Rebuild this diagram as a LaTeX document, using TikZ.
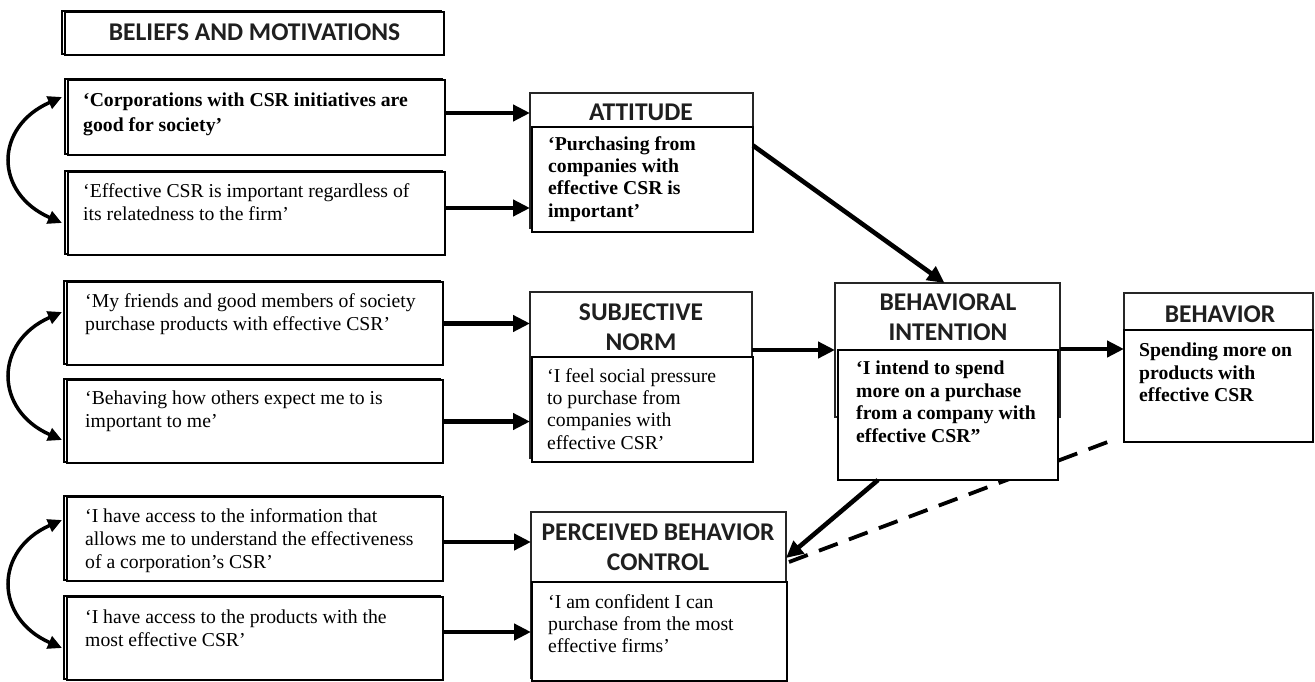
\documentclass[tikz,border=0pt]{standalone}
\usepackage{fontspec}
\setmainfont{Liberation Serif}
\newfontfamily\hdfont{Carlito}
\usetikzlibrary{arrows.meta,shadows}
\begin{document}
\begin{tikzpicture}[x=1pt,y=-1pt,
  lbox/.style={draw=black, line width=1.7pt, fill=white, inner sep=0pt, outer sep=0pt, anchor=north west,
     copy shadow={shadow xshift=-3pt, shadow yshift=1pt, draw=black, fill=white, line width=1.7pt}},
  hbox/.style={draw=black!85, line width=2.8pt, fill=white, inner sep=0pt, outer sep=0pt, anchor=north west},
  bbox/.style={draw=black, line width=1.4pt, fill=white, inner sep=0pt, outer sep=0pt, anchor=north west},
  txt/.style={font=\fontsize{19.7}{23}\selectfont, align=left, anchor=north west, inner sep=0pt},
  btxt/.style={font=\fontsize{19.7}{22.4}\selectfont\bfseries, align=left, anchor=north west, inner sep=0pt},
  rtxt/.style={font=\fontsize{19.7}{22.4}\selectfont, align=left, anchor=north west, inner sep=0pt},
  htxt/.style={font=\hdfont\bfseries\fontsize{25.5}{30}\selectfont, align=center, text=black!88, inner sep=0pt},
  arr/.style={line width=4.6pt, -{Triangle[length=17pt,width=16pt]}},
  carr/.style={line width=3.5pt, {Triangle[length=14pt,width=13pt]}-{Triangle[length=14pt,width=13pt]}},
]
\useasboundingbox (0,0) rectangle (1315,682);
\fill[white] (0,0) rectangle (1315,682);

% dashed connector (behind boxes)
\coordinate (dstart) at (789,562);
\coordinate (dend) at (1113,440);
\draw[line width=3.8pt, dash pattern=on 20pt off 12pt] (dstart) -- (dend);

% header
\node[lbox, minimum width=379pt, minimum height=43pt, line width=2.6pt] (BM) at (65,12) {};
\node[htxt] (BMt) at ([yshift=1pt]BM.center) {BELIEFS AND MOTIVATIONS};

% left boxes
\node[lbox, minimum width=377pt, minimum height=75pt] (L1) at (68,80) {};
\node[lbox, minimum width=377pt, minimum height=83pt] (L2) at (68,172) {};
\node[lbox, minimum width=376pt, minimum height=83pt] (L3) at (67,282) {};
\node[lbox, minimum width=376pt, minimum height=83pt] (L4) at (67,380) {};
\node[lbox, minimum width=376pt, minimum height=84pt] (L5) at (67,497) {};
\node[lbox, minimum width=376pt, minimum height=83pt] (L6) at (67,597) {};

\node[btxt, font=\fontsize{19.7}{25}\selectfont\bfseries] (L1t) at (83,93) {‘Corporations with CSR initiatives are\\good for society’};
\node[txt] (L2t) at (83,183) {‘Effective CSR is important regardless of\\its relatedness to the firm’};
\node[txt] (L3t) at (85,293) {‘My friends and good members of society\\purchase products with effective CSR’};
\node[txt] (L4t) at (85,391) {‘Behaving how others expect me to is\\important to me’};
\node[txt] (L5t) at (85,508) {‘I have access to the information that\\allows me to understand the effectiveness\\of a corporation’s CSR’};
\node[txt] (L6t) at (85,610) {‘I have access to the products with the\\most effective CSR’};

% ATTITUDE
\node[hbox, minimum width=223pt, minimum height=135pt] (ATTh) at (530,93) {};
\node[bbox, minimum width=221pt, minimum height=105pt] (ATTb) at (532,127) {};
\node[htxt] (ATTt) at (641,112) {ATTITUDE};
\node[btxt] (ATTx) at (548,136) {‘Purchasing from\\companies with\\effective CSR is\\important’};

% SUBJECTIVE NORM
\node[hbox, minimum width=222pt, minimum height=166pt] (SNh) at (530,292) {};
\node[bbox, minimum width=221pt, minimum height=105pt] (SNb) at (532,357) {};
\node[htxt] (SNt) at (641,327) {SUBJECTIVE\\NORM};
\node[rtxt] (SNx) at (547,368) {‘I feel social pressure\\to purchase from\\companies with\\effective CSR’};

% PERCEIVED BEHAVIOR CONTROL
\node[hbox, minimum width=255pt, minimum height=166pt] (PBCh) at (531,512) {};
\node[bbox, minimum width=255pt, minimum height=99pt] (PBCb) at (532,582) {};
\node[htxt] (PBCt) at (658,547) {PERCEIVED BEHAVIOR\\CONTROL};
\node[rtxt] (PBCx) at (548,594) {‘I am confident I can\\purchase from the most\\effective firms’};

% BEHAVIORAL INTENTION
\node[hbox, minimum width=225pt, minimum height=134pt] (BIh) at (835,283) {};
\node[bbox, minimum width=220pt, minimum height=130pt] (BIb) at (838,350) {};
\node[htxt] (BIt) at (948,317) {BEHAVIORAL\\INTENTION};
\node[btxt] (BIx) at (856,361) {‘I intend to spend\\more on a purchase\\from a company with\\effective CSR”};

% BEHAVIOR
\node[hbox, minimum width=189pt, minimum height=140pt] (BEh) at (1124,293) {};
\node[bbox, minimum width=189pt, minimum height=112pt] (BEb) at (1124,330) {};
\node[htxt] (BEt) at (1220,314) {BEHAVIOR};
\node[btxt] (BEx) at (1139,343) {Spending more on\\products with\\effective CSR};

% arrows from beliefs
\draw[arr] ([yshift=4.5pt]L1.east) -- ([yshift=4.5pt]L1.east -| ATTh.west);
\draw[arr] ([yshift=5.5pt]L2.east) -- ([yshift=5.5pt]L2.east -| ATTh.west);
\draw[arr] (L3.east) -- (L3.east -| SNh.west);
\draw[arr] (L4.east) -- (L4.east -| SNh.west);
\draw[arr] ([yshift=-3pt]L5.east) -- ([yshift=-3pt]L5.east -| PBCh.west);
\draw[arr] ([yshift=6.5pt]L6.east) -- ([yshift=6.5pt]L6.east -| PBCh.west);

% main paths
\draw[arr] ([yshift=25pt]SNh.east) -- ([yshift=25pt]SNh.east -| BIh.west);
\draw[arr] ([yshift=1pt]BIh.east) -- ([yshift=1pt]BIh.east -| BEh.west);
\draw[arr] ([yshift=34pt]ATTb.east) -- ([xshift=-3pt]BIh.north);
\draw[arr] ([xshift=-70pt]BIb.south) -- ([yshift=37pt]PBCh.east);

% correlation arcs
\draw[carr] ([xshift=-6pt,yshift=20.5pt]L1.west) .. controls +(-68,30) and +(-68,-30) .. ([xshift=-6pt,yshift=-9.5pt]L2.west);
\draw[carr] ([xshift=-5pt,yshift=11.5pt]L3.west) .. controls +(-68,30) and +(-68,-30) .. ([xshift=-5pt,yshift=-18.5pt]L4.west);
\draw[carr] ([xshift=-5pt,yshift=19pt]L5.west) .. controls +(-68,30) and +(-68,-30) .. ([xshift=-5pt,yshift=-9.5pt]L6.west);
\end{tikzpicture}
\end{document}
